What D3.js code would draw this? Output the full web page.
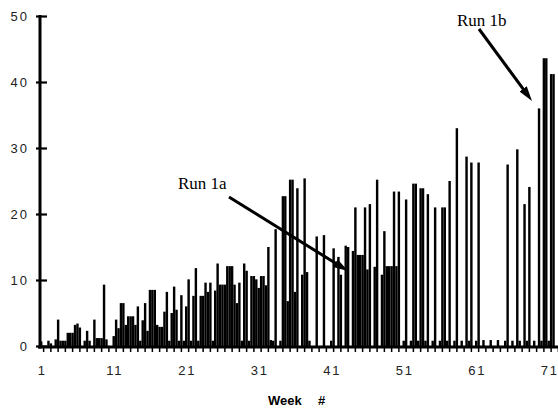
<!DOCTYPE html>
<html>
<head>
<meta charset="utf-8">
<script src="https://cdnjs.cloudflare.com/ajax/libs/d3/7.8.5/d3.min.js"></script>
<style>
  body { margin: 0; background: #fff; }
  svg { display: block; }
</style>
</head>
<body>
<svg id="chart"></svg>
<script>
// weekly counts, three bars per week (left / middle / right)
const weeks = d3.range(1, 73);
const left = [0.7,0.8,1.0,0.8,2.0,3.4,0.8,0,1.2,1.0,
  1.5,6.5,4.5,3.2,3.9,8.5,3.2,5.2,5.0,0.8,
  6.0,7.6,7.6,8.2,8.4,9.3,12.1,6.5,12.5,10.6,
  8.8,9.2,0.8,0.8,6.8,8.2,10.8,0.8,16.6,16.8,
  0.8,13.5,15.2,14.4,13.8,11.6,12.0,10.8,12.1,12.1,
  0.8,0.8,0.8,0.8,0.8,0.8,0.8,0.8,0.8,0.8,
  0.8,0.9,0.9,0.9,0.8,0.8,0.8,0.8,0.8,0.8,0.8];
const middle = [0,0.4,4.0,0.8,2.0,2.8,2.3,4.0,1.2,0,
  4.0,6.5,4.5,6.0,6.5,8.5,2.9,8.2,9.0,7.7,
  10.1,11.8,7.6,9.6,12.5,9.3,12.1,9.6,11.4,10.6,
  10.6,15.0,17.7,22.7,25.2,23.9,25.4,0,0,0,
  14.8,10.8,15.0,21.0,13.8,21.5,25.2,17.4,12.1,23.4,
  22.2,24.6,23.9,23.0,21.0,21.0,25.0,33.0,0,27.8,
  27.8,0,0,0,27.5,0,0,24.1,0,43.6,41.2];
const right = [0,0,0.8,2.0,3.2,0,0.8,1.2,9.3,0,
  2.7,3.2,4.5,0.8,2.3,8.5,2.9,0.8,5.5,0.8,
  0.8,0.8,9.6,0.8,9.3,12.1,9.3,0.8,0.8,10.1,
  10.6,0.9,0,22.7,25.2,0,11.2,0,0,0,
  0,0,0,13.8,21.0,0,0,12.1,23.4,0,
  0,24.6,23.9,0,0,21.0,0,0,28.7,0,
  0,0,0,0,0,29.8,21.5,0,36.0,43.6,41.2];
const yTicks = [0, 10, 20, 30, 40, 50];
const xLabels = [1, 11, 21, 31, 41, 51, 61, 71];

const width = 558, height = 408;
const svg = d3.select("#chart").attr("width", width).attr("height", height);

const x = d3.scaleBand().domain(weeks).range([40, 562]).padding(0);
const slot = d3.scaleBand().domain([0, 1, 2]).range([0, x.bandwidth()]);
const y = d3.scaleLinear().domain([0, 50]).range([346, 16]);

// bars
const rows = [];
[left, middle, right].forEach((arr, k) => {
  arr.forEach((v, i) => { if (v > 0) rows.push({week: weeks[i], k: k, v: v}); });
});
svg.append("g").selectAll("rect")
  .data(rows)
  .join("rect")
  .attr("x", d => x(d.week) + slot(d.k))
  .attr("width", slot.bandwidth())
  .attr("y", d => y(d.v))
  .attr("height", d => y(0) - y(d.v))
  .attr("fill", "#000");

// y axis
const yAxis = svg.append("g")
  .attr("transform", "translate(40,0)")
  .call(d3.axisLeft(y).tickValues(yTicks).tickSize(4).tickPadding(7));
yAxis.select(".domain").remove();
yAxis.selectAll(".tick line").attr("x1", 7).attr("x2", -4).attr("stroke", "#000").attr("stroke-width", 2.2);
yAxis.selectAll(".tick text")
  .attr("fill", "#222")
  .style("font-family", "'Liberation Sans', Arial, sans-serif")
  .style("font-size", "13px")
  .style("letter-spacing", "2px");
svg.append("line").attr("x1", 40).attr("x2", 40).attr("y1", y(50) - 1).attr("y2", 348.5)
  .attr("stroke", "#000").attr("stroke-width", 3);

// x axis
const xAxis = svg.append("g")
  .attr("transform", "translate(0,347)")
  .call(d3.axisBottom(x).tickValues(weeks)
    .tickFormat(d => xLabels.includes(d) ? d : "")
    .tickSize(5).tickPadding(14));
xAxis.select(".domain").remove();
xAxis.selectAll(".tick line").attr("stroke", "#000").attr("stroke-width", 1.5);
xAxis.selectAll(".tick text")
  .attr("fill", "#222")
  .attr("dx", "-1.5")
  .style("font-family", "'Liberation Sans', Arial, sans-serif")
  .style("font-size", "13px")
  .style("letter-spacing", "1.6px");
svg.append("line").attr("x1", 38).attr("x2", width).attr("y1", 347).attr("y2", 347)
  .attr("stroke", "#000").attr("stroke-width", 3);

const xTitle = svg.append("text")
  .attr("x", 268).attr("y", 405)
  .style("font-family", "'Liberation Sans', Arial, sans-serif")
  .style("font-size", "13px").style("font-weight", "bold")
  .text("Week");
xTitle.append("tspan").attr("x", 318).text("#");

// annotations
svg.append("defs").append("marker")
  .attr("id", "head")
  .attr("markerUnits", "userSpaceOnUse")
  .attr("markerWidth", 16).attr("markerHeight", 10)
  .attr("refX", 9).attr("refY", 4.5)
  .attr("orient", "auto")
  .append("path").attr("d", "M0,0 L15,4.5 L0,9 Z").attr("fill", "#000");

function arrow(x1, y1, x2, y2) {
  const len = Math.hypot(x2 - x1, y2 - y1);
  const ux = (x2 - x1) / len, uy = (y2 - y1) / len;
  svg.append("line")
    .attr("x1", x1).attr("y1", y1)
    .attr("x2", x2 - ux * 6).attr("y2", y2 - uy * 6)
    .attr("stroke", "#000").attr("stroke-width", 3)
    .attr("marker-end", "url(#head)");
}
arrow(229, 197, 348, 271);
arrow(479, 29, 532, 101);

svg.append("text").attr("x", 178).attr("y", 189)
  .style("font-family", "'Liberation Serif', 'Times New Roman', serif")
  .style("font-size", "17px").text("Run 1a");
svg.append("text").attr("x", 457).attr("y", 26)
  .style("font-family", "'Liberation Serif', 'Times New Roman', serif")
  .style("font-size", "17px").text("Run 1b");
</script>
</body>
</html>
